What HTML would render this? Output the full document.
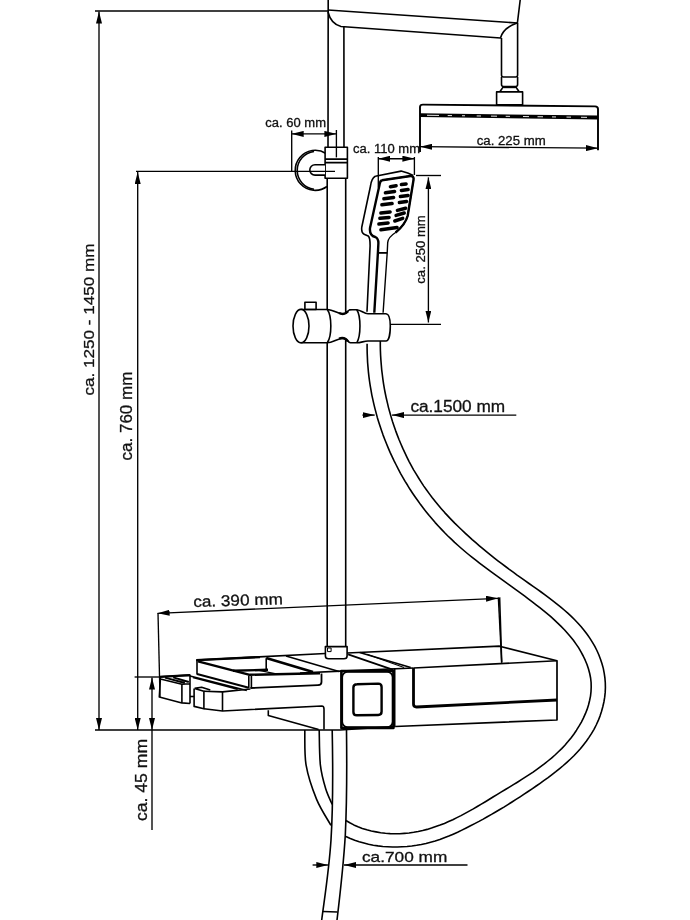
<!DOCTYPE html>
<html><head><meta charset="utf-8">
<style>
html,body{margin:0;padding:0;background:#fff;}
svg{display:block;will-change:transform;}
text{font-family:"Liberation Sans",sans-serif;fill:#111;stroke:#111;stroke-width:0.3;}
</style></head>
<body>
<svg width="690" height="920" viewBox="0 0 690 920">
<defs>
<marker id="ar" viewBox="0 0 12 6" refX="12" refY="3" markerWidth="12" markerHeight="6" markerUnits="userSpaceOnUse" orient="auto"><path d="M0,0 L12,3 L0,6 z" fill="#000"/></marker>
<marker id="al" viewBox="0 0 12 6" refX="0" refY="3" markerWidth="12" markerHeight="6" markerUnits="userSpaceOnUse" orient="auto"><path d="M12,0 L0,3 L12,6 z" fill="#000"/></marker>
</defs>
<g fill="none" stroke="#000" stroke-width="1.6" stroke-linejoin="round" stroke-linecap="butt">
<!-- left dimension lines -->
<path d="M95,11 H328" stroke-width="1.35"/>
<path d="M99,11.5 V730" stroke-width="1.35" marker-start="url(#al)" marker-end="url(#ar)"/>
<path d="M137.7,172 V730" stroke-width="1.35" marker-start="url(#al)" marker-end="url(#ar)"/>
<path d="M95,730 H340 L395.2,726.5"/>
<path d="M134.6,677 H161" stroke-width="1.35"/>
<path d="M152,677.5 V730" stroke-width="1.35" marker-start="url(#al)" marker-end="url(#ar)"/>
<path d="M152,730 V830" stroke-width="1.35"/>

<!-- pole -->
<path d="M328.2,0 L328,150 M327.2,175 V647" stroke-width="1.6"/>
<path d="M343.9,27 L344,150 M345.7,175 V647" stroke-width="1.6"/>
<!-- arm -->
<path d="M328,10 L517.4,23 L520.2,0"/>
<path d="M328,12 Q331,24 341,26.5 L500.5,38 Q503,28 517,23"/>
<path d="M501.5,38 V75 Q501.5,77 503.5,77 H515.6 Q517.6,77 517.6,75 V23"/>
<path d="M501.5,77 V84.5 Q501.5,86.5 503.5,86.5 H515.6 Q517.6,86.5 517.6,84.5 V77"/>
<path d="M502,87.2 H517" stroke-width="2"/>
<path d="M502.5,88 L500,91.5 M516.5,88 L519,91.5"/>
<rect x="496.6" y="91.9" width="26" height="13" />
<!-- shower head -->
<path d="M420,152 V107 Q420,104.6 423,104.6 L595,106.4 Q598,106.4 598,109 V150.3" stroke-width="1.9"/>
<path d="M420,115.2 L598,117.5" stroke-width="3.8"/>
<path d="M427.0,115.29 L439.0,115.45 M447.7,115.56 L452.0,115.61 M462.0,115.74 L465.0,115.78 M476.7,115.93 L481.0,115.99 M491.0,116.12 L497.0,116.19 M505.7,116.31 L510.0,116.36 M523.0,116.53 L529.0,116.61 M537.5,116.72 L543.0,116.79 M552.0,116.91 L556.0,116.96 M566.5,117.09 L571.0,117.15 M581.0,117.28 L587.0,117.36" stroke="#fff" stroke-width="0.9"/>
<path d="M420,146.7 L598,148.2" stroke-width="1.35" marker-start="url(#al)" marker-end="url(#ar)"/>
<!-- bracket -->
<path d="M326,153.5 A20,20 0 1 0 327,186.5" />
<path d="M314,151.5 A19.2,19 0 0 0 314,189.2" />
<rect x="325.1" y="147.3" width="22.3" height="31" fill="#fff"/>
<path d="M325.1,159.1 H347.4 M325.1,162.6 H347.4"/>
<path d="M325,164.7 H315 A5.2,5.2 0 0 0 315,175.1 H325" fill="#fff"/>
<!-- 60mm dim -->
<path d="M291.7,133.9 H336.4" stroke-width="1.35" marker-start="url(#al)" marker-end="url(#ar)"/>
<path d="M291.7,130.4 V171.3" stroke-width="1.35"/>
<path d="M336.4,130 V157.4" stroke-width="1.35"/>
<path d="M136,171.3 H335" stroke-width="1.35"/>
<!-- 110 dim -->
<path d="M378.3,158.7 H414.4" stroke-width="1.35" marker-start="url(#al)" marker-end="url(#ar)"/>
<path d="M378.3,157 V187.4" stroke-width="1.35"/>
<path d="M414.4,157 V175" stroke-width="1.35"/>
<!-- 250 dim -->
<path d="M416,175.5 H441" stroke-width="1.35"/>
<path d="M389.2,324.3 H441" stroke-width="1.35"/>
<path d="M428.4,177.4 V322.5" stroke-width="1.35" marker-start="url(#al)" marker-end="url(#ar)"/>
<!-- 1500 dim -->
<path d="M362.4,415.1 H374.7" stroke-width="1.35" marker-end="url(#ar)"/>
<path d="M516.3,415.1 H392" stroke-width="1.35" marker-end="url(#ar)"/>
<!-- 390 dim -->
<path d="M157.6,613.3 L498,598.3" stroke-width="1.35" marker-start="url(#al)" marker-end="url(#ar)"/>
<path d="M158,613 L160,697" stroke-width="1.35"/>
<path d="M498.3,597.4 L501.7,662.6" stroke-width="1.35"/>
<!-- 700 dim -->
<path d="M312.6,865 H328.3" stroke-width="1.35" marker-end="url(#ar)"/>
<path d="M467.5,865 H344" stroke-width="1.35" marker-end="url(#ar)"/>
</g>

<!-- bracket fixed -->
<g fill="none" stroke="#000" stroke-width="1.6" stroke-linejoin="round">
<!-- hand shower outer -->
<path d="M375.3,176.2 L401.1,171.1 L407.7,173.1 L413.3,175.6 M375.3,176.2 C372,178 371,182 370.5,186 L361.8,227 C361.3,231 362.5,233.5 364.1,234.2 L368.2,236 C369.6,237 370.1,240 370.1,245.7 L367,311.8"/>
<!-- inner thick -->
<path d="M381.9,180.2 L410.5,176 C413,175.8 414,177.5 413.5,180 L407.7,215.7 C406,222 401,228 395.6,232.5 C390,236 388,239 387.7,242.6 L387.2,252.9 L383.1,312.8" stroke-width="1.4"/>
<path d="M381.9,180.2 C380,181 379.8,183 379.5,185 L370,228 C369.5,233 371,236 375.3,237 C377.5,238 378.4,240 378.4,243 L377.9,252.9 L374.3,312.8" stroke-width="2.4"/>
<path d="M381.9,180.2 L410.5,176 C413,175.8 414,177.5 413.5,180 L407.7,215.7 C406,222 401,228 395.6,232.5" stroke-width="2.4"/>
<path d="M377.9,252.9 H387.2" stroke-width="1.8"/>
</g>
<!-- slots -->
<g stroke="#000" stroke-width="3.5" stroke-linecap="round" fill="none">
<path d="M390.4,186.8 L396.1,185.8 M401.4,184.6 L406.1,183.9"/>
<path d="M385.4,192.8 L394.6,191.4 M401.4,190.4 L408.1,189.6"/>
<path d="M383.9,198.8 L393.6,197.4 M400.4,196.6 L408.1,195.6"/>
<path d="M381.9,204.8 L392.1,203.6 M399.4,202.4 L406.6,201.4"/>
<path d="M380.9,213.1 L390.1,212.0 M397.4,210.4 L405.6,208.2"/>
<path d="M379.9,218.3 L389.1,217.4 M396.1,215.4 L404.2,213.0"/>
<path d="M378.9,224.0 L388.1,223.0 M394.8,221.0 L402.7,218.4"/>
<path d="M380.9,229.8 L397.1,227.4"/>
</g>
<g fill="none" stroke="#000" stroke-width="1.6" stroke-linejoin="round">
<!-- slider -->

<path d="M301,309.5 H327.3 C333,309.8 338,313.5 343,314.2 C346,314.4 347.5,311 349.5,309.9 L352,309.7 H356.8 C361,310 364,313.8 368,313.8 H386 C389,314 390.3,320 390.3,326 C390.3,333 389,341 386,341 H368 C364,341 361,342.8 356.8,342.8 H350.4 C348,342.5 347,338.5 344,338.2 C338,338 333,342.8 327.3,342.8 H301 Z" fill="#fff"/>
<path d="M339,313 C342,314.4 345.5,314.4 348,311.2 M339,338.6 C342,337.6 345.5,337.8 348,341.4" stroke-width="2.4"/>
<ellipse cx="301" cy="326.1" rx="8" ry="16.7" fill="#fff"/>
<path d="M327.3,309.5 C332,316 332,336 327.3,342.8"/>
<path d="M356.8,309.7 C361,316 361,336 356.8,342.8"/>
<rect x="304.9" y="302.2" width="11.2" height="7.3"/>
<!-- hose -->
<path d="M367.1,343.8 L367.1,348.5 L367.2,353.2 L367.4,357.8 L367.6,362.5 L368.0,367.1 L368.4,371.8 L368.9,376.4 L369.5,381.0 L370.2,385.6 L371.0,390.2 L371.8,394.8 L372.8,399.4 L373.8,403.9 L374.9,408.4 L376.1,412.9 L377.3,417.4 L378.7,421.9 L380.1,426.3 L381.6,430.8 L383.1,435.1 L384.8,439.5 L386.5,443.8 L388.3,448.1 L390.1,452.4 L392.1,456.7 L394.1,460.9 L396.2,465.0 L398.3,469.2 L400.5,473.3 L402.8,477.3 L405.1,481.4 L407.6,485.3 L410.0,489.3 L412.6,493.2 L415.2,497.0 L417.9,500.8 L420.6,504.6 L423.4,508.3 L426.3,511.9 L429.2,515.6 L432.2,519.1 L435.2,522.6 L438.3,526.0 L441.5,529.4 L444.7,532.8 L447.9,536.0 L451.3,539.2 L454.6,542.4 L458.1,545.5 L461.5,548.5 L465.0,551.5 L468.6,554.5 L472.2,557.4 L475.8,560.2 L479.5,563.1 L483.2,565.9 L486.9,568.7 L490.6,571.4 L494.4,574.2 L498.2,576.9 L502.0,579.7 L505.8,582.4 L509.6,585.2 L513.4,587.9 L517.2,590.7 L521.0,593.4 L524.8,596.2 L528.6,599.1 L532.3,601.9 L536.1,604.8 L539.8,607.7 L543.5,610.7 L547.2,613.7 L550.8,616.7 L554.3,619.9 L557.7,623.1 L561.1,626.4 L564.4,629.7 L567.5,633.2 L570.5,636.7 L573.4,640.3 L576.1,644.1 L578.7,647.9 L581.0,651.9 L583.2,656.0 L585.2,660.2 L587.0,664.5 L588.5,669.0 L589.7,673.5 L590.6,678.0 L591.1,682.5 L591.2,687.0 L591.0,691.6 L590.5,696.1 L589.6,700.5 L588.5,705.0 L587.1,709.4 L585.4,713.7 L583.5,717.9 L581.4,722.1 L579.0,726.2 L576.5,730.2 L573.8,734.2 L571.0,737.9 L568.0,741.6 L564.9,745.2 L561.7,748.6 L558.4,751.8 L555.0,755.0 L551.5,758.1 L547.9,761.0 L544.3,763.9 L540.6,766.7 L536.9,769.4 L533.1,772.1 L529.2,774.7 L525.3,777.2 L521.4,779.7 L517.4,782.2 L513.4,784.6 L509.4,787.1 L505.4,789.5 L501.4,791.9 L497.4,794.4 L493.4,796.8 L489.4,799.3 L485.4,801.7 L481.3,804.1 L477.3,806.5 L473.3,808.9 L469.2,811.1 L465.1,813.4 L461.0,815.6 L456.9,817.6 L452.8,819.7 L448.6,821.6 L444.4,823.4 L440.1,825.1 L435.8,826.6 L431.5,828.1 L427.1,829.4 L422.7,830.5 L418.2,831.5 L413.7,832.3 L409.1,833.0 L404.4,833.4 L399.7,833.7 L395.0,833.7 L390.2,833.6 L385.4,833.3 L380.7,832.7 L376.0,831.9 L371.3,831.0 L366.8,829.8 L362.3,828.4 L358.0,826.8 L353.8,824.9 L349.8,822.8 L345.9,820.5"/>
<path d="M380.3,340.9 L380.3,345.7 L380.4,350.5 L380.6,355.3 L380.9,360.1 L381.3,365.0 L381.7,369.8 L382.3,374.5 L382.9,379.3 L383.6,384.1 L384.4,388.8 L385.3,393.5 L386.3,398.3 L387.4,402.9 L388.5,407.6 L389.8,412.3 L391.1,416.9 L392.5,421.5 L394.0,426.0 L395.6,430.6 L397.3,435.1 L399.0,439.5 L400.9,444.0 L402.8,448.4 L404.8,452.7 L406.9,457.1 L409.0,461.3 L411.3,465.6 L413.6,469.8 L416.1,473.9 L418.6,478.0 L421.2,482.1 L423.8,486.1 L426.6,490.0 L429.4,493.9 L432.3,497.8 L435.3,501.5 L438.4,505.3 L441.5,508.9 L444.7,512.6 L448.0,516.1 L451.3,519.6 L454.7,523.1 L458.2,526.5 L461.6,529.8 L465.1,533.1 L468.7,536.4 L472.2,539.6 L475.8,542.7 L479.4,545.8 L483.1,548.9 L486.7,551.9 L490.4,554.9 L494.1,557.8 L497.9,560.8 L501.7,563.7 L505.5,566.5 L509.3,569.4 L513.2,572.2 L517.1,575.1 L521.1,577.9 L525.0,580.7 L529.0,583.5 L533.1,586.3 L537.1,589.1 L541.1,592.0 L545.0,594.9 L549.0,597.8 L552.9,600.8 L556.7,603.8 L560.5,606.8 L564.2,610.0 L567.8,613.2 L571.3,616.4 L574.7,619.8 L578.0,623.2 L581.2,626.8 L584.2,630.4 L587.1,634.2 L589.8,638.1 L592.3,642.1 L594.7,646.2 L596.9,650.5 L598.8,654.8 L600.5,659.3 L602.0,663.8 L603.3,668.4 L604.2,673.1 L604.9,677.9 L605.3,682.7 L605.4,687.5 L605.2,692.4 L604.7,697.2 L603.9,702.0 L602.8,706.8 L601.5,711.5 L600.0,716.1 L598.2,720.7 L596.2,725.0 L594.0,729.3 L591.6,733.4 L589.0,737.4 L586.3,741.3 L583.4,745.0 L580.4,748.7 L577.2,752.2 L573.9,755.7 L570.5,759.0 L566.9,762.3 L563.3,765.5 L559.6,768.6 L555.8,771.7 L552.0,774.6 L548.1,777.6 L544.1,780.4 L540.1,783.3 L536.2,786.0 L532.1,788.8 L528.1,791.5 L524.1,794.2 L520.1,796.8 L516.0,799.4 L512.0,802.0 L507.9,804.6 L503.9,807.1 L499.8,809.5 L495.6,812.0 L491.5,814.4 L487.3,816.7 L483.2,819.1 L479.0,821.4 L474.7,823.6 L470.5,825.8 L466.2,828.0 L461.9,830.1 L457.6,832.2 L453.2,834.2 L448.8,836.1 L444.3,837.8 L439.8,839.5 L435.2,841.0 L430.6,842.3 L426.0,843.5 L421.3,844.5 L416.6,845.3 L411.8,846.0 L407.0,846.5 L402.2,846.8 L397.3,847.0 L392.5,847.0 L387.6,846.8 L382.8,846.5 L378.0,845.9 L373.3,845.2 L368.5,844.3 L363.9,843.1 L359.2,841.8 L354.7,840.3 L350.3,838.6 L345.9,836.6"/>
<path d="M304.8,730.0 C305.0,735.9 304.2,753.7 306.1,765.2 C308.1,776.7 312.4,789.1 316.5,799.1 C320.6,809.1 328.5,820.9 330.9,825.3"/>
<path d="M319.2,730.0 C319.4,735.9 319.3,755.4 320.4,765.2 C321.5,775.0 323.7,782.2 325.7,788.7 C327.7,795.2 331.1,801.8 332.2,804.4"/>
<!-- bottom pipe -->
<path d="M332.2,730 C333,770 333.5,800 331,840 C329,870 325,895 321.7,920"/>
<path d="M346.5,730 C347,770 347,800 345.3,835 C343.5,865 340,895 337,920"/>
<path d="M323,911.5 L337.5,912"/>
</g>

<!-- SHELF -->
<g fill="none" stroke="#000" stroke-width="1.6" stroke-linejoin="round">
<!-- back edge -->
<path d="M196.3,660.1 L325.4,653.5 M347,653 L499.6,646.2 L557,660.8 V720 L395.2,726.5" stroke-width="1.7"/>
<path d="M196.3,660.1 L260,657.1" stroke-width="2.4"/>
<!-- right box -->
<path d="M413.5,668 L557,660.8" stroke-width="1.6"/>
<path d="M413.5,668 V704 Q413.5,707 416.5,707 L557,700" stroke-width="2.8"/>
<path d="M499.6,597.4 L501.7,662.6"/>
<!-- front top edge center -->
<path d="M300,673 L340.5,671.1 L413.5,668"/>
<!-- thermostat -->
<path d="M394.7,668 V727"/>
<rect x="341.4" y="671" width="52" height="57" stroke-width="2.6"/>
<rect x="342.2" y="671.8" width="50.4" height="55.4" rx="5.5" stroke-width="1.8"/>
<path d="M357,684.2 L378.2,683.6 Q381.6,683.6 381.6,687 V711.6 Q381.6,715 378.2,715 L356.8,715.3 Q353.4,715.3 353.4,711.9 V687.6 Q353.4,684.2 357,684.2 z" stroke-width="2.4"/>
<!-- stripes -->
<path d="M348.1,654.3 L393.3,669.9" stroke-width="1.8"/>
<path d="M359.7,652.5 L410.7,667.5" stroke-width="1.8"/>
<path d="M367,654.2 L404,667.4" stroke-width="1.1"/>
<path d="M266.2,658 L313,672" stroke-width="2.6"/>


<path d="M286,656 L339,671.4" stroke-width="1.6"/>
<path d="M266.2,658.3 V669.5"/>
<!-- collar -->
<path d="M325.4,646.6 V656 Q325.4,658.8 328.5,658.8 H344 Q347.1,658.8 347.1,656 V646.6 Z" fill="#fff"/>
<rect x="327.5" y="648" width="3.6" height="3.6" stroke-width="1"/>
<!-- tray -->
<path d="M197,660.1 V674.5"/>
<path d="M198,661.3 L249.8,674.8 L320,673.3" stroke-width="2.4"/>
<path d="M233,670.8 L268,669.8" stroke-width="2.4"/>
<path d="M259,670.4 L275,673.6" stroke-width="1.2"/>
<path d="M197,674 L248.8,687.8" stroke-width="2.2"/>

<path d="M250.4,688 L318,685.2 Q321.5,685 321.5,682 V673.4" stroke-width="1.8"/>
<path d="M248.8,675.6 V688 M251.4,676 V688"/>
<!-- lower arm -->
<path d="M190,675.9 L246.8,690.6 M193,677.6 L237.7,689.2"/>
<path d="M194.6,688.4 L201.6,687.2 L210.3,690.1 M194.6,688.4 L203.9,691.3 V708.7 L194.1,706.4 V688.4"/>
<path d="M203.9,691.3 L222.5,691.9 L250.4,689 M203.9,708.7 L222.5,711 L321.8,706 Q324,706 324,709 V729.5"/>
<path d="M222.5,691.9 V711"/>
<path d="M190,696.5 H194"/>
<path d="M268.3,710.2 V715.4 L318.6,729.5"/>
<!-- block A -->
<path d="M159.9,676.8 L190,675.1 V703.5 M190,683.8 L181.9,684.3 L160.4,679 L159.9,676.8" />
<path d="M159.9,676.8 L190,675.1" stroke-width="2.2"/>
<path d="M160.4,679 L159.3,697.1 L181.9,702.9 V684.3 M181.9,702.9 L190,703.5"/>
<path d="M165,677.6 L184.8,683 M173.2,677.4 L188.8,682" stroke-width="1.9"/>
</g>
<g font-size="12.5">
<text x="476.7" y="144.6" textLength="69" lengthAdjust="spacingAndGlyphs">ca. 225 mm</text>
<text x="265.3" y="127" textLength="60.7" lengthAdjust="spacingAndGlyphs">ca. 60 mm</text>
<text x="353" y="152.6" textLength="67" lengthAdjust="spacingAndGlyphs">ca. 110 mm</text>
<text transform="translate(425,283.7) rotate(-90)" x="0" y="0" textLength="68.4" lengthAdjust="spacingAndGlyphs">ca. 250 mm</text>
<text x="410.4" y="412.2" font-size="16" textLength="94.8" lengthAdjust="spacingAndGlyphs">ca.1500 mm</text>
<text transform="translate(93.6,395.6) rotate(-90)" font-size="15.3" textLength="152" lengthAdjust="spacingAndGlyphs">ca. 1250 - 1450 mm</text>
<text transform="translate(131.9,460.4) rotate(-90)" font-size="16" textLength="88.7" lengthAdjust="spacingAndGlyphs">ca. 760 mm</text>
<text transform="translate(147.4,821.1) rotate(-90)" font-size="16.3" textLength="82.2" lengthAdjust="spacingAndGlyphs">ca. 45 mm</text>
<text x="362" y="862" font-size="15" textLength="85.3" lengthAdjust="spacingAndGlyphs">ca.700 mm</text>
<text transform="translate(193.5,607) rotate(-1.8)" font-size="15.6" textLength="89.5" lengthAdjust="spacingAndGlyphs">ca. 390 mm</text>
</g>
</svg>
</body></html>
